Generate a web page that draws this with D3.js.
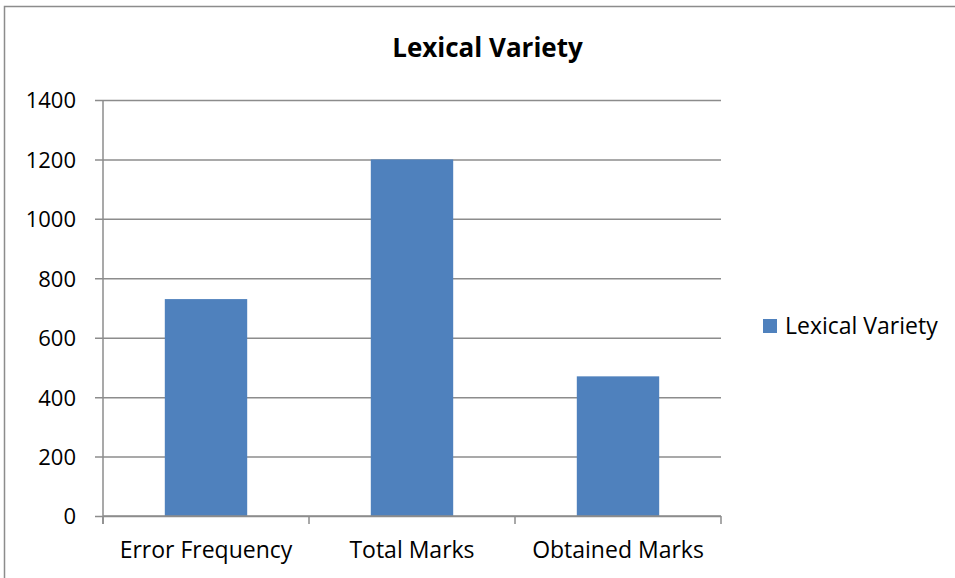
<!DOCTYPE html>
<html>
<head>
<meta charset="utf-8">
<script src="https://cdn.jsdelivr.net/npm/d3@7"></script>
<style>
  html, body { margin: 0; padding: 0; background: #fff; }
  svg { display: block; font-family: "Open Sans", "Noto Sans", sans-serif; }
</style>
</head>
<body>
<svg id="chart" width="955" height="578"></svg>
<script>
// Chart data
const categories = ["Error Frequency", "Total Marks", "Obtained Marks"];
const seriesName = "Lexical Variety";
const seriesValues = [730, 1200, 470];
const yTicks = [0, 200, 400, 600, 800, 1000, 1200, 1400];
const chartTitle = "Lexical Variety";

const svg = d3.select("#chart");
const W = 955, H = 578;
const plot = { left: 103, right: 721, top: 100, bottom: 516 };
const barColor = "#4F81BD";
const gridColor = "#8c8c8c";

// Outer chart frame
svg.append("rect")
  .attr("x", 4.5).attr("y", 6.5)
  .attr("width", W).attr("height", H)
  .attr("fill", "none").attr("stroke", "#8c8c8c").attr("stroke-width", 1.5);

const x = d3.scaleBand()
  .domain(categories)
  .range([plot.left, plot.right])
  .paddingInner(0.6)
  .paddingOuter(0.3);

const y = d3.scaleLinear()
  .domain([0, 1400])
  .range([plot.bottom, plot.top]);

// Horizontal gridlines with short left ticks
const yAxis = d3.axisLeft(y)
  .tickValues(yTicks)
  .tickSize(-(plot.right - plot.left))
  .tickFormat(d3.format("d"));

const gy = svg.append("g")
  .attr("transform", `translate(${plot.left},0)`)
  .call(yAxis);
gy.select(".domain").remove();
gy.attr("font-family", null).attr("font-size", null);
gy.selectAll(".tick line")
  .attr("x1", -8)
  .attr("stroke", gridColor).attr("stroke-width", 1.5);
gy.selectAll(".tick text")
  .attr("fill", "#000")
  .attr("font-size", "22px")
  .attr("x", -27)
  .attr("dy", "0.36em");

// Bars
svg.append("g").selectAll("rect")
  .data(seriesValues)
  .join("rect")
  .attr("x", (d, i) => x(categories[i]))
  .attr("y", d => y(d))
  .attr("width", x.bandwidth())
  .attr("height", d => y(0) - y(d))
  .attr("fill", barColor);

// Vertical axis line
svg.append("line")
  .attr("x1", plot.left).attr("x2", plot.left)
  .attr("y1", plot.top).attr("y2", plot.bottom + 8)
  .attr("stroke", gridColor).attr("stroke-width", 1.5);

// Category axis: baseline, boundary ticks and labels
svg.append("line")
  .attr("x1", plot.left).attr("x2", plot.right)
  .attr("y1", plot.bottom).attr("y2", plot.bottom)
  .attr("stroke", gridColor).attr("stroke-width", 1.5);

const boundaries = d3.range(categories.length + 1).map(i => plot.left + i * (plot.right - plot.left) / categories.length);
svg.append("g").selectAll("line")
  .data(boundaries)
  .join("line")
  .attr("x1", d => d).attr("x2", d => d)
  .attr("y1", plot.bottom).attr("y2", plot.bottom + 8)
  .attr("stroke", gridColor).attr("stroke-width", 1.5);

svg.append("g").selectAll("text")
  .data(categories)
  .join("text")
  .attr("x", d => x(d) + x.bandwidth() / 2)
  .attr("y", 558)
  .attr("text-anchor", "middle")
  .attr("font-size", "23px")
  .attr("fill", "#000")
  .text(d => d);

// Title
svg.append("text")
  .attr("x", 487.5).attr("y", 57)
  .attr("text-anchor", "middle")
  .attr("font-size", "26px")
  .attr("font-weight", "bold")
  .attr("fill", "#000")
  .text(chartTitle);

// Legend
const lg = svg.append("g").attr("transform", "translate(763,319)");
lg.append("rect").attr("width", 14).attr("height", 14).attr("fill", barColor);
lg.append("text")
  .attr("x", 22).attr("y", 7).attr("dy", "0.36em")
  .attr("font-size", "23px").attr("fill", "#000")
  .text(seriesName);
</script>
</body>
</html>
